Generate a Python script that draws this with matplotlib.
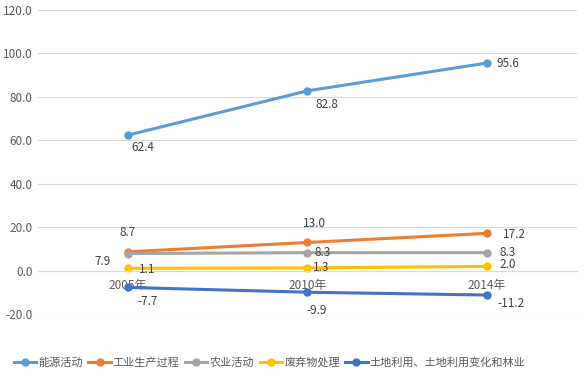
import numpy as np
import matplotlib.pyplot as plt

plt.rcParams['font.family'] = ['Noto Sans CJK SC', 'DejaVu Sans']

years = ['2005年', '2010年', '2014年']
energy = [62.4, 82.8, 95.6]
industry = [8.7, 13.0, 17.2]
agri = [7.9, 8.3, 8.3]
waste = [1.1, 1.3, 2.0]
land = [-7.7, -9.9, -11.2]
names = ['能源活动', '工业生产过程', '农业活动', '废弃物处理', '土地利用、土地利用变化和林业']
colors = ['#5B9BD5', '#ED7D31', '#A5A5A5', '#FFC000', '#4472C4']

# label offsets in points (dx, dy) per series / point
offsets = [
    [(11, -9), (14, -10), (15, 0)],
    [(0, 14), (5, 14), (20, -1)],
    [(-18, -6), (11, 0), (15, 0)],
    [(14, -1), (10, 0), (15, 1)],
    [(14, -10), (7, -13), (17, -6)],
]

fig = plt.figure(figsize=(5.85, 3.85), dpi=100)
ax = fig.add_axes([0.065, 0.184, 0.921, 0.79])
x = np.arange(len(years))
series = [energy, industry, agri, waste, land]
for s, c, n, offs in zip(series, colors, names, offsets):
    ax.plot(x, s, color=c, lw=2.2, marker='o', ms=5, label=n)
    for xi, v, (dx, dy) in zip(x, s, offs):
        ax.annotate('{:.1f}'.format(v), (xi, v), xytext=(dx, dy), textcoords='offset points',
                    ha='center', va='center', fontsize=8.5, color='#404040')

ax.set_xlim(-0.5, 2.5)
ax.set_ylim(-20, 120)
ax.set_yticks(np.arange(-20, 121, 20))
ax.set_yticklabels(['{:.1f}'.format(v) for v in np.arange(-20, 121, 20)])
ax.grid(axis='y', color='#D9D9D9', lw=0.8)
ax.set_axisbelow(True)
for sp in ['top', 'right', 'left']:
    ax.spines[sp].set_visible(False)
ax.spines['bottom'].set_position(('data', 0))
ax.spines['bottom'].set_color('#D9D9D9')
ax.set_xticks(x)
ax.set_xticklabels(years)
ax.tick_params(axis='x', length=0, pad=6, labelsize=8.5, labelcolor='#595959')
ax.tick_params(axis='y', length=0, pad=4, labelsize=8.5, labelcolor='#595959')

ax.legend(loc='center', bbox_to_anchor=(0.43, -0.158), ncol=5, frameon=False,
          fontsize=8, handlelength=2.0, handletextpad=0.2, columnspacing=0.5,
          labelcolor='#595959')

fig.savefig('out.png', dpi=100)
